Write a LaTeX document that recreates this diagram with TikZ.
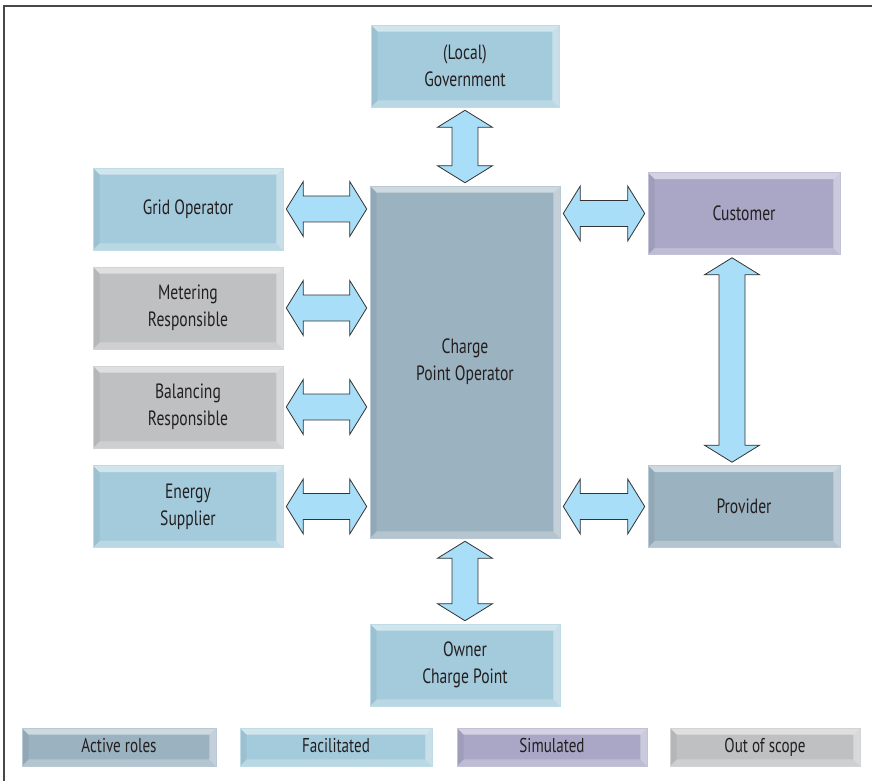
\documentclass[tikz,border=0pt]{standalone}
\usepackage{fontspec}
\setmainfont[FakeStretch=0.755]{PT Sans}
\usepackage{tikz}
\usetikzlibrary{calc}
\definecolor{attivo}{HTML}{9BB2C0}
\definecolor{facil}{HTML}{A4CBDC}
\definecolor{simul}{HTML}{A9A6C6}
\definecolor{fuori}{HTML}{BFC0C2}
\definecolor{freccia}{HTML}{A8DEF7}
\definecolor{testo}{HTML}{231F20}
\definecolor{cornice}{HTML}{4A4748}

\tikzset{
  % riquadro smussato
  ruolo/.style={minimum width=142.5pt, minimum height=61.5pt, inner sep=0pt,
    align=center, text=testo, font=\fontsize{15.5}{20}\selectfont,
    fill=#1, draw=#1!70!white, line width=.4pt,
    path picture={
      \path (path picture bounding box.south west) coordinate (sw)
            (path picture bounding box.north east) coordinate (ne);
      \fill[white, opacity=.5] (sw|-ne) -- (ne) -- ($(ne)+(-5pt,-5pt)$) -- ($(sw|-ne)+(5pt,-5pt)$) -- cycle;
      \fill[white, opacity=.4] (ne) -- (ne|-sw) -- ($(ne|-sw)+(-5pt,5pt)$) -- ($(ne)+(-5pt,-5pt)$) -- cycle;
      \fill[white, opacity=.25] (sw) -- (ne|-sw) -- ($(ne|-sw)+(-5pt,5pt)$) -- ($(sw)+(5pt,5pt)$) -- cycle;
      \fill[black, opacity=.05] (sw) -- (sw|-ne) -- ($(sw|-ne)+(5pt,-5pt)$) -- ($(sw)+(5pt,5pt)$) -- cycle;
    }},
  legenda/.style={ruolo=#1, minimum width=144pt, minimum height=28.5pt,
    text height=10.5pt, text depth=3pt, font=\fontsize{15}{18}\selectfont},
  % frecce doppie
  frecciah/.style={draw=black!80, line width=.6pt, fill=freccia, line join=miter,
    to path={let \p1=(\tikztostart), \p2=(\tikztotarget) in
      (\x1+2.25pt,\y1) -- ++(12.75pt,20.6pt) -- ++(0,-10.85pt) -- (\x2-15pt,\y1+9.75pt)
      -- ++(0,10.85pt) -- (\x2-2.25pt,\y1) -- ++(-12.75pt,-20.6pt) -- ++(0,10.85pt)
      -- (\x1+15pt,\y1-9.75pt) -- ++(0,-10.85pt) -- cycle}},
  frecciav/.style={draw=black!80, line width=.6pt, fill=freccia, line join=miter,
    to path={let \p1=(\tikztostart), \p2=(\tikztotarget) in
      (\x1,\y1-2.25pt) -- ++(20.6pt,-12.75pt) -- ++(-10.85pt,0) -- (\x1+9.75pt,\y2+15pt)
      -- ++(10.85pt,0) -- (\x1,\y2+2.25pt) -- ++(-20.6pt,12.75pt) -- ++(10.85pt,0)
      -- (\x1-9.75pt,\y1-15pt) -- ++(-10.85pt,0) -- cycle}},
}

\begin{document}
\begin{tikzpicture}[x=0.75pt, y=-0.75pt]
        \useasboundingbox (0,0) rectangle (872,781);
        % cornice
        \draw[line width=1.5pt, color=cornice] (4,781) -- (4,6) -- (872,6);
        % ruoli
        \node[ruolo=attivo, minimum height=264pt] (cpo) at (465,362) {Charge\\Point Operator};
        \node[ruolo=facil, minimum width=141pt] (gov) at (465,66) {(Local)\\Government};
        \node[ruolo=facil] (owner) at (465,665) {Owner\\Charge Point};
        \node[ruolo=facil] (grid) at (188,209) {Grid Operator};
        \node[ruolo=fuori] (meter) at (188,308) {Metering\\Responsible};
        \node[ruolo=fuori] (bal) at (188,407) {Balancing\\Responsible};
        \node[ruolo=facil] (supp) at (188,506.5) {Energy\\Supplier};
        \node[ruolo=simul, minimum width=144pt] (cust) at (744,213.5) {Customer};
        \node[ruolo=attivo, minimum width=144pt] (prov) at (744,506.5) {Provider};
        % frecce
        \foreach \r in {grid,meter,bal,supp}
            \draw[frecciah] (\r.east) to (\r.east -| cpo.west);
        \draw[frecciah] (cpo.east |- cust.west) to (cust.west);
        \draw[frecciah] (cpo.east |- prov.west) to (prov.west);
        \draw[frecciav] (gov.south) to (cpo.north);
        \draw[frecciav] (cpo.south) to (owner.north);
        \draw[frecciav] ([xshift=-9pt]cust.south) to ([xshift=-9pt]prov.north);
        % legenda
        \node[legenda=attivo, minimum width=145.5pt] (lg1) at (119,747) {Active roles};
        \node[legenda=facil] (lg2) at (336,747) {Facilitated};
        \node[legenda=simul, minimum width=142.5pt] (lg3) at (552,747) {Simulated};
        \node[legenda=fuori, minimum width=142.5pt] (lg4) at (765,747) {Out of scope};
    \end{tikzpicture}
\end{document}
